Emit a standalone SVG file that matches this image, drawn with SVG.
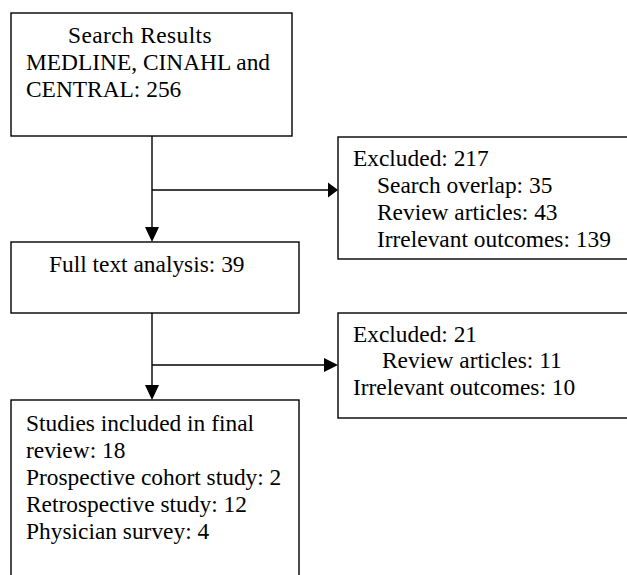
<svg xmlns="http://www.w3.org/2000/svg" width="627" height="575" viewBox="0 0 627 575">
<style>
.box{fill:#fff;stroke:#000;stroke-width:1.4}
.t{font-family:"Liberation Serif","Times New Roman",serif;font-size:23.4px;fill:#000}
.ln{stroke:#000;stroke-width:1.4;fill:none}
.ah{fill:#000}
</style>
<rect width="627" height="575" fill="#fff"/>
<g id="connectors">
<line class="ln" x1="152" y1="136" x2="152" y2="230"/>
<polygon class="ah" points="145,227 159,227 152,242"/>
<line class="ln" x1="152" y1="190" x2="330" y2="190"/>
<polygon class="ah" points="328,182.5 328,197.5 338,190"/>
<line class="ln" x1="152" y1="313" x2="152" y2="388"/>
<polygon class="ah" points="145,385 159,385 152,400"/>
<line class="ln" x1="152" y1="365" x2="326" y2="365"/>
<polygon class="ah" points="324,358 324,372 338,365"/>
</g>
<g id="search">
<rect class="box" x="11" y="13" width="281" height="123"/>
<text class="t" x="68" y="43" letter-spacing="0.4">Search Results</text>
<text class="t" x="26" y="70">MEDLINE, CINAHL and</text>
<text class="t" x="26" y="97">CENTRAL: 256</text>
</g>
<g id="excluded1">
<rect class="box" x="338" y="137" width="300" height="122"/>
<text class="t" x="353" y="166">Excluded: 217</text>
<text class="t" x="377" y="193">Search overlap: 35</text>
<text class="t" x="377" y="220">Review articles: 43</text>
<text class="t" x="377" y="247">Irrelevant outcomes: 139</text>
</g>
<g id="fulltext">
<rect class="box" x="11" y="242" width="288" height="71"/>
<text class="t" x="49" y="272">Full text analysis: 39</text>
</g>
<g id="excluded2">
<rect class="box" x="338" y="313" width="300" height="105"/>
<text class="t" x="353" y="342">Excluded: 21</text>
<text class="t" x="382" y="368">Review articles: 11</text>
<text class="t" x="353" y="395">Irrelevant outcomes: 10</text>
</g>
<g id="included">
<rect class="box" x="11" y="400" width="288" height="190"/>
<text class="t" x="26" y="431">Studies included in final</text>
<text class="t" x="26" y="458">review: 18</text>
<text class="t" x="26" y="485">Prospective cohort study: 2</text>
<text class="t" x="26" y="512">Retrospective study: 12</text>
<text class="t" x="26" y="539">Physician survey: 4</text>
</g>
</svg>
